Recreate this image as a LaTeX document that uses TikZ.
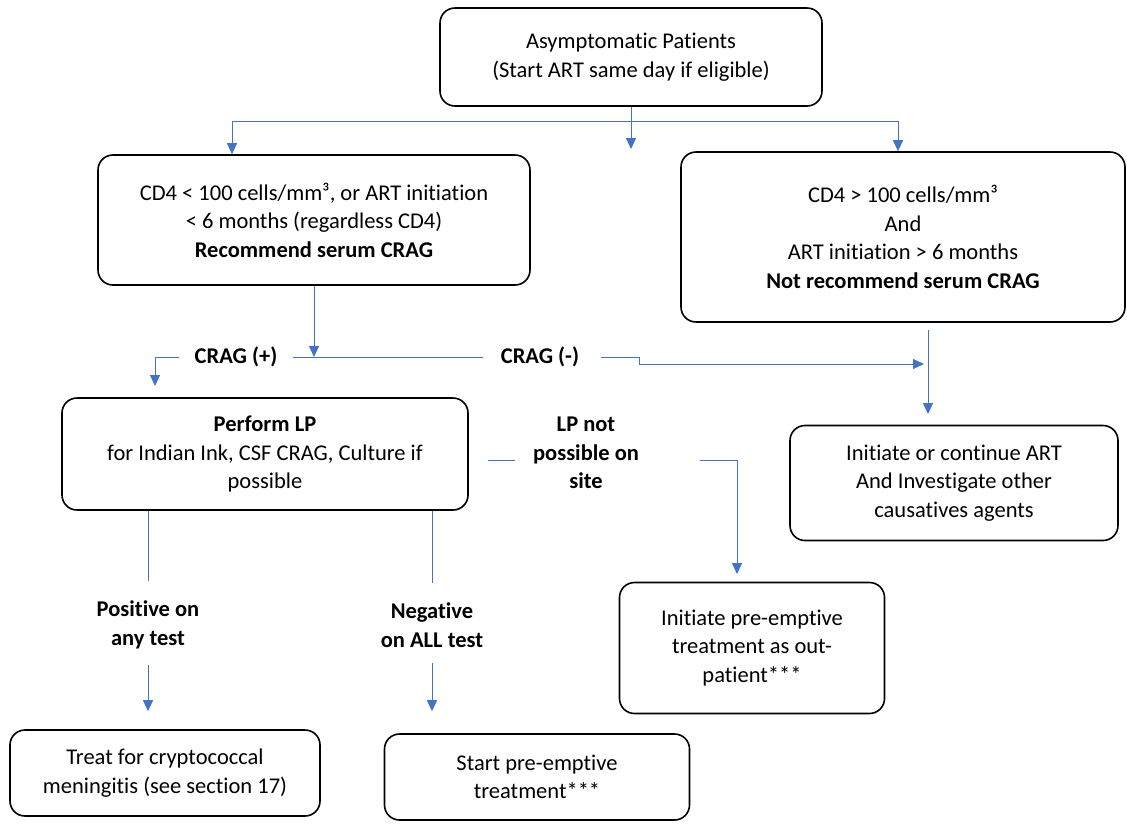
\documentclass[tikz,border=0pt]{standalone}
\usepackage{fontspec}
\setmainfont{Carlito}[Ligatures=NoCommon]
\usetikzlibrary{arrows.meta,positioning,calc}
\definecolor{linkblue}{HTML}{4472C4}

\begin{document}
\begin{tikzpicture}[
  x=1pt, y=-1pt,
  font=\fontsize{22.5}{28.5}\selectfont,
  box/.style={
    draw, line width=1.6pt, rounded corners=15pt, align=center,
    fill=white, inner sep=0pt
  },
  lbl/.style={font=\fontsize{22.5}{28.5}\selectfont\bfseries, align=center, inner sep=2pt},
  link/.style={draw=linkblue, line width=1pt},
  flow/.style={link, -{Triangle[length=11pt, width=10pt]}},
]
\useasboundingbox (0,0) rectangle (1127,823);

% ---- row 1: who is screened ---------------------------------------------
\node[box, minimum width=382, minimum height=98] (start) at (631,57)
  {Asymptomatic Patients\\ (Start ART same day if eligible)};

\node[box, minimum width=432, minimum height=130] (lowcd) at (314,220)
  {CD4 < 100 cells/mm³, or ART initiation\\
   < 6 months (regardless CD4)\\
   \textbf{Recommend serum CRAG}};

\node[box, minimum width=444, minimum height=170] (highcd) at (903,237)
  {CD4 > 100 cells/mm³\\ And\\ ART initiation > 6 months\\
   \textbf{Not recommend serum CRAG}};

\coordinate (split)  at (631,121);
\coordinate (midtip) at (631,149);
\draw[flow] (start.south) -- (midtip);
\draw[flow] (split) -| ([xshift=-82]lowcd.north);
\draw[flow] (split) -| ([xshift=-5]highcd.north);

% ---- row 2: serum CRAG result -------------------------------------------
\node[lbl] (cragpos) at (236,357) {CRAG (+)};
\node[lbl] (cragneg) at (540,357) {CRAG (-)};
\coordinate (cragjoin) at (314,357);
\coordinate (lptip)    at (155,386);
\coordinate (arttop)   at (928,330);
\coordinate (artin)    at (924,364);
\coordinate (arttip)   at (928,414);

\draw[flow] (lowcd.south) -- (cragjoin);
\draw[link] ([xshift=14]cragpos.east) -- ([xshift=-16]cragneg.west);
\draw[flow] ([xshift=-14]cragpos.west) -| (lptip);
\draw[flow] ([xshift=20]cragneg.east) -- ++(38,0) |- (artin);
\draw[flow] (arttop) -- (arttip);

% ---- row 3: lumbar puncture ---------------------------------------------
\node[box, minimum width=406, minimum height=112] (lp) at (265,454)
  {\textbf{Perform LP}\\ for Indian Ink, CSF CRAG, Culture if\\ possible};

\node[box, minimum width=328, minimum height=115] (art) at (954,483)
  {Initiate or continue ART\\ And Investigate other\\ causatives agents};

\node[lbl] (nolp) at (586,453) {LP not\\ possible on\\ site};
\node[box, minimum width=265, minimum height=131] (outpat) at (752,648)
  {Initiate pre-emptive\\ treatment as out-\\ patient***};

\coordinate (nolpa)  at (488,460);
\coordinate (nolpb)  at (515,460);
\coordinate (nolpc)  at (700,460);
\coordinate (outtip) at (737,574);
\draw[link] (nolpa) -- (nolpb);
\draw[flow] (nolpc) -| (outtip);

% ---- row 4: LP result ---------------------------------------------------
\node[lbl] (pos) at (148,625) {Positive on\\ any test};
\node[lbl] (neg) at (432,625) {Negative\\ on ALL test};

\node[box, minimum width=310, minimum height=86] (treat) at (165,773)
  {Treat for cryptococcal\\ meningitis (see section 17)};
\node[box, minimum width=305, minimum height=86] (preempt) at (537,777)
  {Start pre-emptive\\ treatment***};

\draw[link] (lp.south -| pos) -- ([yshift=18]pos.north);
\draw[link] (lp.south -| neg) -- ([yshift=18]neg.north);
\draw[flow] ([yshift=-14]pos.south) -- ([yshift=18]treat.north -| pos);
\draw[flow] ([yshift=-14]neg.south) -- ([yshift=22]preempt.north -| neg);

\end{tikzpicture}
\end{document}
